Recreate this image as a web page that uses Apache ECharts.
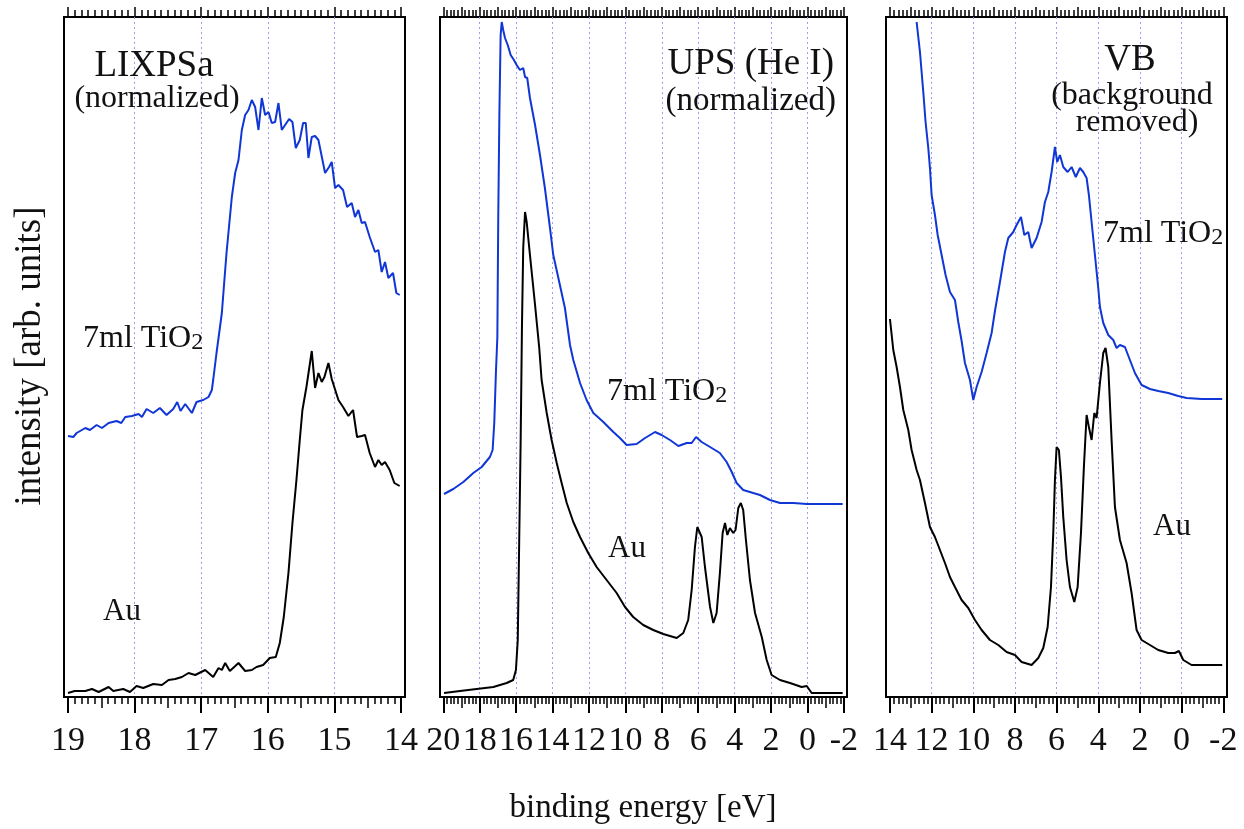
<!DOCTYPE html>
<html>
<head>
<meta charset="utf-8">
<script src="https://cdn.jsdelivr.net/npm/echarts@6/dist/echarts.min.js"></script>
<style>
html, body { margin: 0; padding: 0; background: #fff; }
#main { width: 1244px; height: 829px; }
</style>
</head>
<body>
<div id="main"></div>
<script>
// [binding energy (eV), intensity (arb. units)]
var lixTiO2 = [[19.00,261],[18.92,260],[18.87,264],[18.74,269],[18.67,267],[18.57,272],[18.49,269],[18.39,274],[18.27,276],[18.20,274],[18.14,280],[18.04,281],[17.94,283],[17.89,280],[17.82,288],[17.72,284],[17.62,289],[17.52,282],[17.42,288],[17.36,295],[17.31,286],[17.24,293],[17.14,284],[17.07,295],[16.97,297],[16.89,300],[16.84,307],[16.82,317],[16.77,344],[16.69,384],[16.62,444],[16.54,500],[16.49,524],[16.44,537],[16.39,567],[16.34,582],[16.29,587],[16.24,597],[16.19,590],[16.14,567],[16.09,599],[16.04,582],[15.99,585],[15.94,574],[15.89,575],[15.84,594],[15.79,567],[15.74,572],[15.68,578],[15.63,575],[15.58,549],[15.52,557],[15.47,574],[15.43,574],[15.39,539],[15.34,560],[15.29,561],[15.24,557],[15.14,524],[15.08,530],[15.04,535],[14.99,509],[14.94,512],[14.87,507],[14.81,490],[14.74,494],[14.69,480],[14.64,487],[14.59,474],[14.54,475],[14.47,460],[14.39,445],[14.34,447],[14.29,425],[14.24,435],[14.19,419],[14.12,424],[14.07,404],[14.02,402]];
var lixAu = [[19.00,4],[18.90,6],[18.74,6],[18.64,8],[18.54,5],[18.39,10],[18.32,6],[18.17,8],[18.07,5],[17.97,11],[17.87,9],[17.72,13],[17.59,12],[17.49,17],[17.39,18],[17.29,20],[17.19,24],[17.09,22],[16.94,27],[16.82,20],[16.74,29],[16.69,27],[16.64,34],[16.57,26],[16.44,34],[16.34,26],[16.24,27],[16.17,30],[16.07,32],[15.97,39],[15.88,40],[15.82,54],[15.76,80],[15.69,124],[15.63,174],[15.57,217],[15.52,257],[15.48,287],[15.42,310],[15.34,346],[15.29,309],[15.24,324],[15.19,315],[15.15,320],[15.09,334],[15.04,318],[15.01,319],[14.94,297],[14.87,290],[14.79,281],[14.72,287],[14.66,260],[14.59,261],[14.54,262],[14.47,244],[14.39,230],[14.34,237],[14.29,232],[14.24,235],[14.17,227],[14.10,214],[14.02,211]];

var upsTiO2 = [[19.96,203],[19.45,208],[18.90,215],[18.35,224],[17.89,230],[17.44,240],[17.29,247],[17.20,274],[17.11,324],[17.03,360],[16.98,482],[16.92,582],[16.85,662],[16.79,675],[16.71,667],[16.61,659],[16.46,652],[16.30,642],[16.12,637],[15.97,632],[15.79,627],[15.61,629],[15.51,620],[15.39,619],[15.24,599],[14.96,572],[14.69,542],[14.42,509],[14.14,469],[13.96,442],[13.68,419],[13.32,389],[13.04,352],[12.86,337],[12.49,314],[12.13,297],[11.76,284],[11.21,275],[10.66,265],[10.30,259],[9.93,252],[9.38,253],[8.92,259],[8.37,265],[8.01,262],[7.55,257],[7.09,251],[6.63,254],[6.36,254],[6.12,260],[5.81,255],[5.35,250],[4.81,244],[4.44,235],[4.16,225],[3.89,214],[3.53,207],[2.98,204],[2.61,202],[2.06,197],[1.51,194],[0.78,194],[0.04,193],[-0.87,193],[-1.93,193]];
var upsAu = [[19.96,4],[19.08,6],[18.17,8],[17.25,10],[16.52,14],[16.16,17],[16.01,27],[15.91,57],[15.83,157],[15.75,257],[15.68,370],[15.61,449],[15.51,485],[15.42,475],[15.24,442],[14.96,392],[14.73,349],[14.60,317],[14.32,284],[14.05,257],[13.77,234],[13.50,214],[13.22,194],[12.86,175],[12.49,160],[12.04,144],[11.58,130],[11.03,117],[10.48,104],[10.02,90],[9.57,80],[9.02,72],[8.47,67],[7.92,63],[7.55,61],[7.18,59],[6.82,64],[6.55,77],[6.36,107],[6.18,150],[6.05,170],[5.95,172],[5.81,160],[5.63,130],[5.35,90],[5.17,74],[4.99,84],[4.81,124],[4.66,164],[4.53,174],[4.40,162],[4.26,169],[4.08,164],[3.95,167],[3.80,189],[3.66,194],[3.53,187],[3.38,157],[3.16,117],[2.88,84],[2.51,60],[2.24,37],[1.97,22],[1.51,17],[0.96,14],[0.32,10],[0.04,11],[-0.23,4],[-0.87,4],[-1.93,4]];

var vbTiO2 = [[12.72,675],[12.56,645],[12.40,605],[12.29,575],[12.16,549],[12.08,529],[12.00,502],[11.84,482],[11.71,462],[11.52,442],[11.33,422],[11.12,405],[10.88,397],[10.72,375],[10.56,356],[10.40,334],[10.16,317],[10.00,297],[9.84,310],[9.60,325],[9.36,344],[9.12,364],[8.96,386],[8.72,415],[8.48,445],[8.32,459],[8.08,465],[7.92,472],[7.71,480],[7.55,462],[7.36,465],[7.20,449],[6.96,459],[6.72,475],[6.56,495],[6.40,505],[6.24,525],[6.08,550],[5.97,535],[5.84,542],[5.68,530],[5.47,525],[5.28,530],[5.08,520],[4.88,529],[4.72,525],[4.56,519],[4.45,502],[4.32,475],[4.16,442],[4.00,409],[3.92,390],[3.76,374],[3.52,362],[3.28,357],[3.12,349],[2.96,352],[2.72,350],[2.48,337],[2.24,324],[1.92,312],[1.52,308],[1.12,306],[0.64,304],[0.16,301],[-0.24,299],[-0.96,298],[-1.95,298]];
var vbAu = [[14.00,378],[13.84,347],[13.68,330],[13.52,310],[13.36,287],[13.12,267],[12.96,247],[12.72,227],[12.56,217],[12.32,194],[12.08,170],[11.84,160],[11.60,147],[11.36,134],[11.12,120],[10.88,110],[10.56,97],[10.24,89],[9.92,77],[9.60,67],[9.20,57],[8.80,52],[8.40,45],[8.00,42],[7.68,35],[7.20,32],[6.88,39],[6.64,49],[6.43,70],[6.27,110],[6.16,164],[6.08,217],[6.00,250],[5.89,247],[5.79,220],[5.68,180],[5.52,137],[5.36,110],[5.15,95],[4.99,110],[4.83,164],[4.69,230],[4.56,282],[4.45,270],[4.32,257],[4.19,284],[4.08,279],[3.92,314],[3.76,344],[3.65,349],[3.52,330],[3.36,257],[3.20,190],[2.96,157],[2.64,134],[2.40,104],[2.16,67],[1.92,57],[1.52,52],[1.12,47],[0.64,44],[0.32,44],[0.13,46],[-0.08,37],[-0.48,32],[-1.95,32]];

// tick labels
var lixTicks = [19, 18, 17, 16, 15, 14];
var upsTicks = [20, 18, 16, 14, 12, 10, 8, 6, 4, 2, 0, -2];
var vbTicks = [14, 12, 10, 8, 6, 4, 2, 0, -2];

// tick positions between from and to
function steps(from, to, step) {
  var out = [];
  var n = Math.round((from - to) / step);
  for (var i = 0; i <= n; i++) out.push(+(from - i * step).toFixed(3));
  return out;
}

var blue = '#1036d6';
var serif = 'Liberation Serif';

var panels = [
  { left: 64, width: 341, min: 13.94, max: 19.06, major: lixTicks, mid: steps(19, 14, 0.5), minor: steps(19, 14, 0.1), topMajor: lixTicks, grid: [18, 17, 16, 15], tio2: lixTiO2, au: lixAu },
  { left: 440, width: 407, min: -2.17, max: 20.18, major: upsTicks, mid: steps(20, -2, 1), minor: steps(20, -2, 0.2), topMajor: steps(20, -2, 1), grid: [18, 16, 14, 12, 10, 8, 6, 4, 2, 0], tio2: upsTiO2, au: upsAu },
  { left: 886, width: 341, min: -2.18, max: 14.19, major: vbTicks, mid: steps(14, -2, 1), minor: steps(14, -2, 0.2), topMajor: steps(14, -2, 1), grid: [12, 10, 8, 6, 4, 2, 0], tio2: vbTiO2, au: vbAu }
];

var grids = [], xAxes = [], yAxes = [], series = [];

panels.forEach(function (p, i) {
  grids.push({ left: p.left, top: 17, width: p.width, height: 680, show: true, borderColor: '#000', borderWidth: 2, backgroundColor: 'transparent' });
  yAxes.push({ gridIndex: i, type: 'value', min: 0, max: 680, show: false });

  function ax(extra) {
    return Object.assign({
      gridIndex: i, type: 'value', min: p.min, max: p.max, inverse: true,
      axisLine: { show: false }, splitLine: { show: false },
      axisLabel: { show: false }, axisTick: { show: false }
    }, extra);
  }

  var first = xAxes.length;
  // dotted vertical grid lines
  xAxes.push(ax({ position: 'bottom', axisTick: { show: false, customValues: p.grid },
    splitLine: { show: true, lineStyle: { color: '#9c9cf2', type: [2, 3], width: 1 } } }));
  // bottom ticks
  xAxes.push(ax({ position: 'bottom', axisTick: { show: true, length: 7, customValues: p.minor, lineStyle: { color: '#000', width: 1.5 } } }));
  xAxes.push(ax({ position: 'bottom', axisTick: { show: true, length: 11, customValues: p.mid, lineStyle: { color: '#000', width: 1.5 } } }));
  xAxes.push(ax({ position: 'bottom',
    axisTick: { show: true, length: 16, customValues: p.major, lineStyle: { color: '#000', width: 2 } },
    axisLabel: { show: true, customValues: p.major, fontSize: 34, fontFamily: serif, color: '#111', margin: 27,
      hideOverlap: false, showMinLabel: true, showMaxLabel: true } }));
  // top ticks
  xAxes.push(ax({ position: 'top', axisTick: { show: true, length: 7, customValues: p.minor, lineStyle: { color: '#000', width: 1.5 } } }));
  xAxes.push(ax({ position: 'top', axisTick: { show: true, length: 10, customValues: p.topMajor, lineStyle: { color: '#000', width: 1.5 } } }));

  series.push({ type: 'line', xAxisIndex: first, yAxisIndex: i, data: p.tio2, showSymbol: false, symbol: 'none',
    lineStyle: { color: blue, width: 2 }, animation: false, z: 3 });
  series.push({ type: 'line', xAxisIndex: first, yAxisIndex: i, data: p.au, showSymbol: false, symbol: 'none',
    lineStyle: { color: '#000', width: 2 }, animation: false, z: 3 });
});

function label(text, x, y, size, align) {
  return { type: 'text', x: x, y: y, z: 10,
    style: { text: text, fontSize: size, fontFamily: serif, fill: '#111', align: align || 'center', verticalAlign: 'middle' } };
}
function tio2Label(x, y) {
  return { type: 'text', x: x, y: y, z: 10,
    style: { text: '7ml TiO{s|2}', fontSize: 32, fontFamily: serif, fill: '#111', align: 'left', verticalAlign: 'middle',
      rich: { s: { fontSize: 24, fontFamily: serif, fill: '#111', verticalAlign: 'bottom' } } } };
}

var graphics = [
  label('LIXPSa', 154, 66, 37),
  label('(normalized)', 157, 99, 32),
  label('UPS (He I)', 834, 64, 37, 'right'),
  label('(normalized)', 836, 101, 33, 'right'),
  label('VB', 1130, 60, 37),
  label('(background', 1132, 96, 32),
  label('removed)', 1137, 123, 32),
  tio2Label(83, 339),
  tio2Label(607, 392),
  tio2Label(1103, 234),
  label('Au', 103, 612, 31, 'left'),
  label('Au', 608, 549, 31, 'left'),
  label('Au', 1153, 527, 31, 'left'),
  label('binding energy [eV]', 643, 808, 33),
  { type: 'text', x: 30, y: 356, rotation: Math.PI / 2, z: 10,
    style: { text: 'intensity [arb. units]', fontSize: 37, fontFamily: serif, fill: '#111', align: 'center', verticalAlign: 'middle' } }
];

var chart = echarts.init(document.getElementById('main'), null, { renderer: 'canvas' });
chart.setOption({
  backgroundColor: '#fff',
  animation: false,
  grid: grids,
  xAxis: xAxes,
  yAxis: yAxes,
  series: series,
  graphic: graphics
});
</script>
</body>
</html>
